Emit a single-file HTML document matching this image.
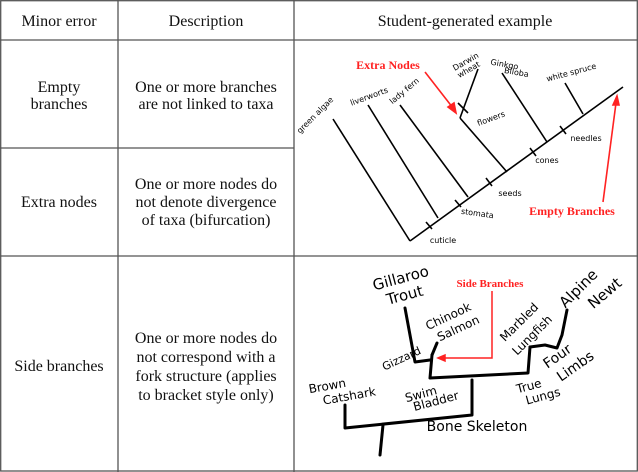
<!DOCTYPE html>
<html><head><meta charset="utf-8"><style>
html,body{margin:0;padding:0;background:#fff;}
svg{display:block;}
.t{font-family:"Liberation Serif",serif;font-size:16px;fill:#111;text-anchor:middle;}
.h{font-family:"DejaVu Sans",sans-serif;fill:#000;text-anchor:middle;}
.r{font-family:"Liberation Serif",serif;font-weight:bold;fill:#f22;text-anchor:middle;}
</style></head><body>
<svg width="638" height="472" viewBox="0 0 638 472">
<g stroke="#555" stroke-width="1.3" fill="none">
<rect x="0.7" y="0.7" width="636.6" height="470.3"/>
<line x1="0" y1="40" x2="638" y2="40"/>
<line x1="0" y1="148" x2="294" y2="148"/>
<line x1="0" y1="256" x2="638" y2="256"/>
<line x1="118" y1="0" x2="118" y2="472"/>
<line x1="294" y1="0" x2="294" y2="472"/>
</g>
<text class="t" x="59" y="26">Minor error</text>
<text class="t" x="206" y="26">Description</text>
<text class="t" x="465" y="26">Student-generated example</text>
<text class="t" x="59" y="92">Empty</text>
<text class="t" x="59" y="109">branches</text>
<text class="t" x="206" y="92">One or more branches</text>
<text class="t" x="206" y="109">are not linked to taxa</text>
<text class="t" x="59" y="207">Extra nodes</text>
<text class="t" x="206" y="189">One or more nodes do</text>
<text class="t" x="206" y="207">not denote divergence</text>
<text class="t" x="206" y="225">of taxa (bifurcation)</text>
<text class="t" x="59" y="130" transform="translate(0,241)">Side branches</text>
<text class="t" x="206" y="102" transform="translate(0,241)">One or more nodes do</text>
<text class="t" x="206" y="121" transform="translate(0,241)">not correspond with a</text>
<text class="t" x="206" y="140" transform="translate(0,241)">fork structure (applies</text>
<text class="t" x="206" y="159" transform="translate(0,241)">to bracket style only)</text>

<!-- diagram 1 -->
<g stroke="#000" stroke-width="1.6" fill="none">
<line x1="410" y1="241" x2="623" y2="87"/>
<line x1="333" y1="119" x2="410" y2="241"/>
<line x1="368" y1="105" x2="438" y2="218"/>
<line x1="400" y1="105" x2="468" y2="197"/>
<line x1="460" y1="118" x2="507" y2="172"/>
<line x1="478" y1="69" x2="460" y2="118"/>
<line x1="502" y1="73" x2="547" y2="142"/>
<line x1="565" y1="83" x2="583" y2="114"/>
<line x1="426" y1="222" x2="432" y2="229"/>
<line x1="455" y1="200" x2="461" y2="207"/>
<line x1="486" y1="178" x2="492" y2="186"/>
<line x1="530" y1="148" x2="536" y2="156"/>
<line x1="560" y1="126" x2="566" y2="134"/>
<line x1="458" y1="103" x2="468" y2="113"/>
</g>
<g class="h" font-size="8">
<text x="443" y="243">cuticle</text>
<text x="477" y="216" transform="rotate(8 477 216)">stomata</text>
<text x="510" y="196">seeds</text>
<text x="547" y="163">cones</text>
<text x="586" y="141">needles</text>
<text x="492" y="121" transform="rotate(-20 492 121)">flowers</text>
<text x="317" y="117" transform="rotate(-45 317 117)">green algae</text>
<text x="370" y="99" transform="rotate(-20 370 99)">liverworts</text>
<text x="406" y="93" transform="rotate(-40 406 93)">lady fern</text>
<text x="467" y="64" transform="rotate(-30 467 64)">Darwin</text>
<text x="470" y="72" transform="rotate(-30 470 72)">wheat</text>
<text x="504" y="67" transform="rotate(10 504 67)">Ginkgo</text>
<text x="516" y="75" transform="rotate(10 516 75)">Biloba</text>
<text x="572" y="75" transform="rotate(-15 572 75)">white spruce</text>
</g>
<text class="r" x="388" y="69" font-size="12">Extra Nodes</text>
<text class="r" x="572" y="215" font-size="12">Empty Branches</text>
<g stroke="#f22" stroke-width="1.6" fill="#f22">
<line x1="425" y1="72" x2="453" y2="108"/>
<polygon points="456,113 448,107 454,103"/>
<line x1="603" y1="202" x2="616" y2="103"/>
<polygon points="617,96 613,105 619,105"/>
</g>

<!-- diagram 2 -->
<g stroke="#000" stroke-width="3" fill="none" stroke-linejoin="round" stroke-linecap="round">
<polyline points="380,455 383,425"/>
<polyline points="345,405 345,428 472,415 472,380"/>
<polyline points="432,355 430,378 528,373 530,347"/>
<polyline points="405,308 415,362 430,360"/>
<polyline points="437,343 432,355"/>
<polyline points="530,347 545,345 557,348 562,335 567,310"/>
</g>
<g class="h">
<text x="402" y="283" font-size="15" transform="rotate(-15 402 283)">Gillaroo</text>
<text x="406" y="300" font-size="15" transform="rotate(-15 406 300)">Trout</text>
<text x="450" y="320" font-size="12" transform="rotate(-25 450 320)">Chinook</text>
<text x="460" y="332" font-size="12" transform="rotate(-25 460 332)">Salmon</text>
<text x="403" y="362" font-size="11" transform="rotate(-25 403 362)">Gizzard</text>
<text x="522" y="325" font-size="12" transform="rotate(-45 522 325)">Marbled</text>
<text x="535" y="338" font-size="12" transform="rotate(-45 535 338)">Lungfish</text>
<text x="582" y="292" font-size="15" transform="rotate(-45 582 292)">Alpine</text>
<text x="608" y="297" font-size="15" transform="rotate(-40 608 297)">Newt</text>
<text x="560" y="360" font-size="14" transform="rotate(-35 560 360)">Four</text>
<text x="578" y="370" font-size="14" transform="rotate(-35 578 370)">Limbs</text>
<text x="328" y="390" font-size="12" transform="rotate(-10 328 390)">Brown</text>
<text x="350" y="400" font-size="12" transform="rotate(-10 350 400)">Catshark</text>
<text x="422" y="398" font-size="12" transform="rotate(-15 422 398)">Swim</text>
<text x="437" y="405" font-size="12" transform="rotate(-15 437 405)">Bladder</text>
<text x="530" y="390" font-size="12" transform="rotate(-15 530 390)">True</text>
<text x="544" y="400" font-size="12" transform="rotate(-15 544 400)">Lungs</text>
<text x="477" y="431" font-size="14">Bone Skeleton</text>
</g>
<text class="r" x="490" y="287" font-size="11">Side Branches</text>
<g stroke="#f22" stroke-width="1.5" fill="#f22">
<polyline points="492,291 492,358 443,358" fill="none"/>
<polygon points="438,358 445,355 445,361"/>
</g>
</svg>
</body></html>
